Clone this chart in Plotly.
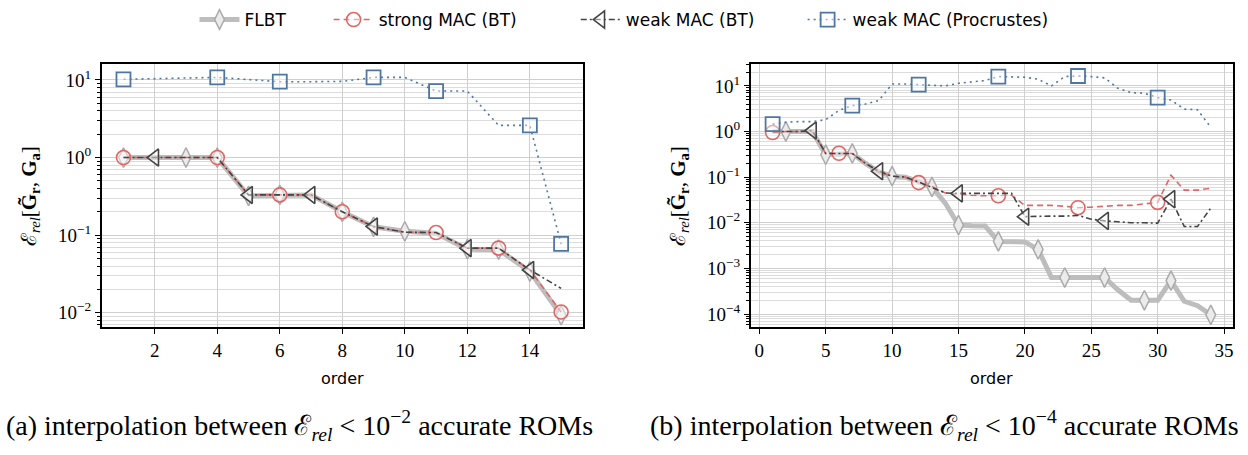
import plotly.graph_objects as go

# ---------------- data: panel (a) ----------------
order_a = list(range(1, 16))
flbt_a = [1.0, 1.0, 1.0, 1.0, 0.32, 0.33, 0.33, 0.2, 0.128, 0.112, 0.106, 0.066, 0.065, 0.034, 0.0093]
strong_a = [1.0, 1.0, 1.0, 1.0, 0.33, 0.33, 0.33, 0.2, 0.129, 0.109, 0.108, 0.068, 0.068, 0.0356, 0.0102]
weakbt_a = [1.0, 1.0, 1.0, 1.0, 0.33, 0.33, 0.33, 0.2, 0.129, 0.109, 0.108, 0.068, 0.068, 0.0356, 0.0206]
procr_a = [10.2, 10.3, 10.6, 10.8, 10.2, 9.5, 9.5, 9.6, 10.8, 10.8, 7.2, 7.2, 2.6, 2.6, 0.077]
mk_flbt_a = [1, 3, 4, 5, 6, 8, 9, 10, 12, 13, 14, 15]
mk_strong_a = [1, 4, 6, 8, 11, 13, 15]
mk_weakbt_a = [2, 5, 7, 9, 12, 14]
mk_procr_a = [1, 4, 6, 9, 11, 14, 15]

# ---------------- data: panel (b) ----------------
order_b = list(range(1, 35))
flbt_b = [1.0, 1.0, 1.0, 1.0, 0.31, 0.33, 0.33, 0.2, 0.13, 0.105, 0.1, 0.08, 0.061, 0.027, 0.0089,
          0.0086, 0.0085, 0.0039, 0.0039, 0.0038, 0.0026, 0.00063, 0.00063, 0.00063, 0.00063, 0.00063,
          0.00034, 0.0002, 0.0002, 0.0002, 0.00054, 0.00019, 0.000152, 0.000096]
strong_b = [0.95, 1.0, 1.0, 1.0, 0.33, 0.333, 0.33, 0.2, 0.13, 0.105, 0.1, 0.076, 0.062, 0.045, 0.042,
            0.04, 0.039, 0.039, 0.04, 0.024, 0.024, 0.024, 0.023, 0.0214, 0.022, 0.023, 0.024, 0.024,
            0.026, 0.028, 0.11, 0.052, 0.052, 0.057]
weakbt_b = [1.0, 1.0, 1.0, 1.05, 0.33, 0.33, 0.33, 0.2, 0.135, 0.105, 0.1, 0.078, 0.06, 0.045, 0.044,
            0.044, 0.044, 0.044, 0.044, 0.0136, 0.014, 0.014, 0.014, 0.0145, 0.012, 0.011, 0.0105, 0.01,
            0.01, 0.0098, 0.033, 0.0083, 0.0083, 0.021]
procr_b = [1.45, 1.6, 1.65, 1.65, 1.82, 2.9, 3.7, 4.0, 4.8, 11.0, 11.0, 10.7, 10.2, 10.0, 11.4,
           12.4, 13.1, 16.0, 15.5, 15.5, 14.0, 10.0, 16.0, 16.5, 16.0, 15.0, 8.9, 7.1, 6.9, 5.55,
           4.9, 3.1, 3.0, 1.24]
mk_flbt_b = [2, 5, 7, 10, 13, 15, 18, 21, 23, 26, 29, 31, 34]
mk_strong_b = [1, 6, 12, 18, 24, 30]
mk_weakbt_b = [4, 9, 15, 20, 26, 31]
mk_procr_b = [1, 7, 12, 18, 24, 30]

xticks_a = [2, 4, 6, 8, 10, 12, 14]
xticks_b = [0, 5, 10, 15, 20, 25, 30, 35]
yexp_a = [-2, -1, 0, 1]
yexp_b = [-4, -3, -2, -1, 0, 1]

series_names = ["FLBT", "strong MAC (BT)", "weak MAC (BT)", "weak MAC (Procrustes)"]

# ---------------- styles ----------------
W, H = 1248, 455
GRAY_LINE = "#bdbdbd"
RED = "#e06666"
DARK = "#444444"
BLUE = "#4f76a0"
SERIF = "Liberation Serif"
SANS = "DejaVu Sans"

styles = [
    dict(line=dict(color=GRAY_LINE, width=5),
         marker=dict(symbol="diamond-tall", size=14, color="#ebebeb", line=dict(color="#aaaaaa", width=1.5))),
    dict(line=dict(color=RED, width=1.6, dash="6px,4px"),
         marker=dict(symbol="circle", size=14, color="rgba(255,255,255,0.45)", line=dict(color=RED, width=1.6))),
    dict(line=dict(color=DARK, width=1.6, dash="6px,3px,2px,3px"),
         marker=dict(symbol="triangle-left", size=15, color="rgba(255,255,255,0.45)", line=dict(color=DARK, width=1.6))),
    dict(line=dict(color=BLUE, width=1.6, dash="2px,4px"),
         marker=dict(symbol="square", size=14, color="rgba(255,255,255,0.45)", line=dict(color=BLUE, width=1.8))),
]
legend_pads = [7, 10, 8, 0]

fig = go.Figure()

def add_panel(xs, ys_list, mk_list, xa, ya):
    for i, (ys, mks) in enumerate(zip(ys_list, mk_list)):
        st = styles[i]
        fig.add_trace(go.Scatter(x=xs, y=ys, mode="lines", line=st["line"],
                                 showlegend=False, xaxis=xa, yaxis=ya, hoverinfo="skip"))
        mx = [xs[xs.index(k)] for k in mks]
        my = [ys[xs.index(k)] for k in mks]
        fig.add_trace(go.Scatter(x=mx, y=my, mode="markers", marker=st["marker"],
                                 showlegend=False, xaxis=xa, yaxis=ya))

add_panel(order_a, [flbt_a, strong_a, weakbt_a, procr_a],
          [mk_flbt_a, mk_strong_a, mk_weakbt_a, mk_procr_a], "x", "y")
add_panel(order_b, [flbt_b, strong_b, weakbt_b, procr_b],
          [mk_flbt_b, mk_strong_b, mk_weakbt_b, mk_procr_b], "x2", "y2")

# legend-only entries (trailing non-breaking spaces widen the gap between entries)
for i, name in enumerate(series_names):
    st = styles[i]
    fig.add_trace(go.Scatter(x=[None], y=[None], mode="lines+markers", name=name + "\u00a0" * legend_pads[i],
                             line=st["line"], marker=st["marker"], xaxis="x", yaxis="y"))

def px_x(p):
    return p / W

def px_y(p):
    return 1 - p / H

axis_common = dict(showline=True, linecolor="black", linewidth=1.5, mirror=True,
                   ticks="outside", ticklen=5, tickwidth=1.2, tickcolor="black",
                   showgrid=True, gridcolor="#cfcfcf", gridwidth=1, zeroline=False,
                   tickfont=dict(family=SERIF, size=19, color="black"))

def ylog(exps, rng, dom):
    d = dict(axis_common)
    d.update(type="log", range=rng, domain=dom,
             tickvals=[10.0 ** e for e in exps],
             ticktext=["10<sup>%s</sup>" % (str(e).replace("-", "\u2212")) for e in exps],
             minor=dict(ticks="outside", ticklen=3, tickwidth=1, tickcolor="black",
                        showgrid=True, gridcolor="#dcdcdc", gridwidth=1, dtick="D1"))
    return d

ydom = [px_y(327), px_y(64)]
xa = dict(axis_common); xa.update(domain=[px_x(101.6), px_x(583)], range=[0.3, 15.7], tickvals=xticks_a, anchor="y")
xb = dict(axis_common); xb.update(domain=[px_x(750.7), px_x(1232.7)], range=[-0.65, 35.65], tickvals=xticks_b, anchor="y2")
ya = ylog(yexp_a, [-2.184, 1.206], ydom); ya.update(anchor="x")
yb = ylog(yexp_b, [-4.285, 1.48], ydom); yb.update(anchor="x2")

ytitle = "\u2130<sub><i>rel</i></sub>[<b>G\u0303</b><sub><b>r</b></sub>, <b>G</b><sub><b>a</b></sub>]"

def ann(text, x, y, family, size, angle=0):
    return dict(text=text, x=px_x(x), y=px_y(y), textangle=angle, showarrow=False,
                xanchor="center", yanchor="middle",
                font=dict(family=family, size=size, color="black"), xref="paper", yref="paper")

annotations = [
    ann(ytitle, 30, 196, SERIF, 21, -90),
    ann(ytitle, 679, 196, SERIF, 21, -90),
    ann("order", 342, 378, SANS, 16),
    ann("order", 992, 378, SANS, 16),
    ann("(a) interpolation between \u2130<sub><i>rel</i></sub> &lt; 10<sup>\u22122</sup> accurate ROMs",
        299, 425, SERIF, 28),
    ann("(b) interpolation between \u2130<sub><i>rel</i></sub> &lt; 10<sup>\u22124</sup> accurate ROMs",
        944, 425, SERIF, 28),
]

fig.update_layout(
    width=W, height=H, margin=dict(l=0, r=0, t=0, b=0),
    paper_bgcolor="white", plot_bgcolor="white",
    xaxis=xa, yaxis=ya, xaxis2=xb, yaxis2=yb,
    annotations=annotations,
    legend=dict(orientation="h", x=0.5, xanchor="center", y=px_y(2), yanchor="top",
                font=dict(family=SANS, size=17, color="black"), itemwidth=40,
                bgcolor="rgba(0,0,0,0)"),
)

fig.write_html("out.html")
